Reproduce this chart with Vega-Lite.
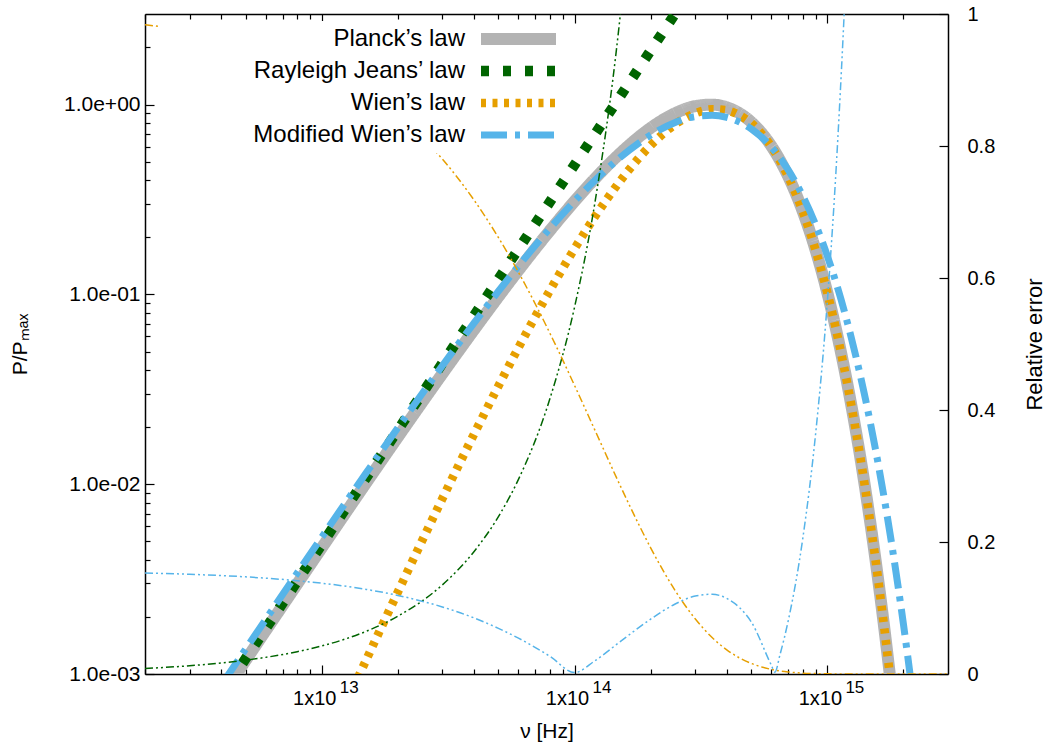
{
  "$schema": "https://vega.github.io/schema/vega-lite/v6.json",
  "width": 803,
  "height": 660,
  "autosize": "none",
  "padding": {"left": 145, "top": 14, "right": 98, "bottom": 73},
  "background": "white",
  "config": {
    "font": "Liberation Sans",
    "view": {"stroke": null},
    "axis": {
      "labelFont": "Liberation Sans", "titleFont": "Liberation Sans",
      "labelFontSize": 20, "titleFontSize": 21, "titleFontWeight": "normal",
      "labelColor": "#000", "titleColor": "#000", "domainColor": "#000", "tickColor": "#000",
      "domainWidth": 1.5, "tickWidth": 1.2, "grid": false, "labelFlush": false, "labelOverlap": false
    },
    "legend": {
      "orient": "none", "legendX": 15, "legendY": 7, "padding": 6,
      "symbolType": "M-7.5,0H7.5", "symbolSize": 100,
      "labelAlign": "right", "labelOffset": -65.5, "symbolOffset": 340.5,
      "labelFont": "Liberation Sans", "labelFontSize": 24, "labelColor": "#000", "labelLimit": 400,
      "fillColor": "white", "rowPadding": 8
    }
  },
  "data": {"values": [
    {"nu": 2e12, "Planck’s law": 1.910e-4, "Rayleigh Jeans’ law": 1.926e-4, "Wien’s law": 3.134e-6, "Modified Wien’s law": 2.202e-4, "err_rj": 0.0083, "err_wien": 0.9836, "err_mod": 0.1531},
    {"nu": 3e12, "Planck’s law": 4.280e-4, "Rayleigh Jeans’ law": 4.333e-4, "Wien’s law": 1.049e-5, "Modified Wien’s law": 4.926e-4, "err_rj": 0.0125, "err_wien": 0.9755, "err_mod": 0.1511},
    {"nu": 4e12, "Planck’s law": 7.577e-4, "Rayleigh Jeans’ law": 7.704e-4, "Wien’s law": 2.466e-5, "Modified Wien’s law": 8.707e-4, "err_rj": 0.0167, "err_wien": 0.9675, "err_mod": 0.1491},
    {"nu": 5e12, "Planck’s law": 1.179e-3, "Rayleigh Jeans’ law": 1.204e-3, "Wien’s law": 4.777e-5, "Modified Wien’s law": 1.353e-3, "err_rj": 0.0210, "err_wien": 0.9595, "err_mod": 0.1472},
    {"nu": 6e12, "Planck’s law": 1.691e-3, "Rayleigh Jeans’ law": 1.733e-3, "Wien’s law": 8.187e-5, "Modified Wien’s law": 1.936e-3, "err_rj": 0.0252, "err_wien": 0.9516, "err_mod": 0.1452},
    {"nu": 8e12, "Planck’s law": 2.981e-3, "Rayleigh Jeans’ law": 3.082e-3, "Wien’s law": 1.909e-4, "Modified Wien’s law": 3.402e-3, "err_rj": 0.0338, "err_wien": 0.9360, "err_mod": 0.1414},
    {"nu": 1e13, "Planck’s law": 4.618e-3, "Rayleigh Jeans’ law": 4.815e-3, "Wien’s law": 3.667e-4, "Modified Wien’s law": 5.254e-3, "err_rj": 0.0425, "err_wien": 0.9206, "err_mod": 0.1376},
    {"nu": 1.5e13, "Planck’s law": 0.01018, "Rayleigh Jeans’ law": 0.01083, "Wien’s law": 1.187e-3, "Modified Wien’s law": 0.01148, "err_rj": 0.0647, "err_wien": 0.8833, "err_mod": 0.1282},
    {"nu": 2e13, "Planck’s law": 0.01771, "Rayleigh Jeans’ law": 0.01926, "Wien’s law": 2.701e-3, "Modified Wien’s law": 0.01982, "err_rj": 0.0875, "err_wien": 0.8475, "err_mod": 0.1191},
    {"nu": 3e13, "Planck’s law": 0.03818, "Rayleigh Jeans’ law": 0.04333, "Wien’s law": 8.391e-3, "Modified Wien’s law": 0.04206, "err_rj": 0.1350, "err_wien": 0.7802, "err_mod": 0.1016},
    {"nu": 4e13, "Planck’s law": 0.06499, "Rayleigh Jeans’ law": 0.07704, "Wien’s law": 0.01831, "Modified Wien’s law": 0.07052, "err_rj": 0.1853, "err_wien": 0.7183, "err_mod": 0.0850},
    {"nu": 5e13, "Planck’s law": 0.09719, "Rayleigh Jeans’ law": 0.1204, "Wien’s law": 0.03292, "Modified Wien’s law": 0.1039, "err_rj": 0.2385, "err_wien": 0.6612, "err_mod": 0.0692},
    {"nu": 6e13, "Planck’s law": 0.1339, "Rayleigh Jeans’ law": 0.1733, "Wien’s law": 0.05237, "Modified Wien’s law": 0.1411, "err_rj": 0.2949, "err_wien": 0.6087, "err_mod": 0.0543},
    {"nu": 8e13, "Planck’s law": 0.2173, "Rayleigh Jeans’ law": 0.3081, "Wien’s law": 0.1052, "Modified Wien’s law": 0.2231, "err_rj": 0.4178, "err_wien": 0.5159, "err_mod": 0.0267},
    {"nu": 1e14, "Planck’s law": 0.3095, "Rayleigh Jeans’ law": 0.4815, "Wien’s law": 0.1742, "Modified Wien’s law": 0.3101, "err_rj": 0.5558, "err_wien": 0.4372, "err_mod": 0.0021},
    {"nu": 1.2e14, "Planck’s law": 0.4052, "Rayleigh Jeans’ law": 0.6933, "Wien’s law": 0.2551, "Modified Wien’s law": 0.3972, "err_rj": 0.7110, "err_wien": 0.3706, "err_mod": 0.0197},
    {"nu": 1.5e14, "Planck’s law": 0.5467, "Rayleigh Jeans’ law": 1.083, "Wien’s law": 0.3887, "Modified Wien’s law": 0.5207, "err_rj": 0.9814, "err_wien": 0.2891, "err_mod": 0.0477},
    {"nu": 1.8e14, "Planck’s law": 0.6766, "Rayleigh Jeans’ law": 1.560, "Wien’s law": 0.5240, "Modified Wien’s law": 0.6289, "err_rj": 1.3055, "err_wien": 0.2256, "err_mod": 0.0706},
    {"nu": 2e14, "Planck’s law": 0.7532, "Rayleigh Jeans’ law": 1.926, "Wien’s law": 0.6092, "Modified Wien’s law": 0.6906, "err_rj": 1.5570, "err_wien": 0.1912, "err_mod": 0.0831},
    {"nu": 2.5e14, "Planck’s law": 0.9006, "Rayleigh Jeans’ law": 3.009, "Wien’s law": 0.7868, "Modified Wien’s law": 0.8051, "err_rj": 2.3413, "err_wien": 0.1264, "err_mod": 0.1061},
    {"nu": 3e14, "Planck’s law": 0.9810, "Rayleigh Jeans’ law": 4.333, "Wien’s law": 0.8990, "Modified Wien’s law": 0.8651, "err_rj": 3.4173, "err_wien": 0.0836, "err_mod": 0.1181},
    {"nu": 3.5e14, "Planck’s law": 0.9992, "Rayleigh Jeans’ law": 5.898, "Wien’s law": 0.9440, "Modified Wien’s law": 0.8785, "err_rj": 4.9029, "err_wien": 0.0553, "err_mod": 0.1208},
    {"nu": 4e14, "Planck’s law": 0.9671, "Rayleigh Jeans’ law": 7.704, "Wien’s law": 0.9317, "Modified Wien’s law": 0.8564, "err_rj": 6.9658, "err_wien": 0.0366, "err_mod": 0.1145},
    {"nu": 4.5e14, "Planck’s law": 0.8989, "Rayleigh Jeans’ law": 9.750, "Wien’s law": 0.8772, "Modified Wien’s law": 0.8087, "err_rj": 9.846, "err_wien": 0.0242, "err_mod": 0.1004},
    {"nu": 5e14, "Planck’s law": 0.8086, "Rayleigh Jeans’ law": 12.04, "Wien’s law": 0.7957, "Modified Wien’s law": 0.7448, "err_rj": 13.886, "err_wien": 0.0160, "err_mod": 0.0789},
    {"nu": 6e14, "Planck’s law": 0.6054, "Rayleigh Jeans’ law": 17.33, "Wien’s law": 0.6012, "Modified Wien’s law": 0.5972, "err_rj": 27.63, "err_wien": 0.0070, "err_mod": 0.0136},
    {"nu": 6.2e14, "Planck’s law": 0.5655, "Rayleigh Jeans’ law": 18.51, "Wien’s law": 0.5622, "Modified Wien’s law": 0.5671, "err_rj": 31.73, "err_wien": 0.0059, "err_mod": 0.0028},
    {"nu": 6.5e14, "Planck’s law": 0.5078, "Rayleigh Jeans’ law": 20.34, "Wien’s law": 0.5054, "Modified Wien’s law": 0.5229, "err_rj": 39.06, "err_wien": 0.0046, "err_mod": 0.0298},
    {"nu": 7e14, "Planck’s law": 0.4187, "Rayleigh Jeans’ law": 23.59, "Wien’s law": 0.4174, "Modified Wien’s law": 0.4524, "err_rj": 55.35, "err_wien": 0.0031, "err_mod": 0.0805},
    {"nu": 8e14, "Planck’s law": 0.2728, "Rayleigh Jeans’ law": 30.81, "Wien’s law": 0.2724, "Modified Wien’s law": 0.3291, "err_rj": 111.96, "err_wien": 0.0013, "err_mod": 0.2063},
    {"nu": 9e14, "Planck’s law": 0.1697, "Rayleigh Jeans’ law": 39.00, "Wien’s law": 0.1696, "Modified Wien’s law": 0.2319, "err_rj": 228.8, "err_wien": 0.00058, "err_mod": 0.3667},
    {"nu": 1e15, "Planck’s law": 0.1018, "Rayleigh Jeans’ law": 48.15, "Wien’s law": 0.1017, "Modified Wien’s law": 0.1592, "err_rj": 472.2, "err_wien": 0.00026, "err_mod": 0.5650},
    {"nu": 1.1e15, "Planck’s law": 0.05921, "Rayleigh Jeans’ law": 58.26, "Wien’s law": 0.05920, "Modified Wien’s law": 0.1073, "err_rj": null, "err_wien": 0.00011, "err_mod": 0.8114},
    {"nu": 1.2e15, "Planck’s law": 0.03361, "Rayleigh Jeans’ law": 69.33, "Wien’s law": 0.03361, "Modified Wien’s law": 0.07105, "err_rj": null, "err_wien": 0.00005, "err_mod": 1.1142},
    {"nu": 1.4e15, "Planck’s law": 0.01020, "Rayleigh Jeans’ law": 94.37, "Wien’s law": 0.01020, "Modified Wien’s law": 0.02998, "err_rj": null, "err_wien": 0.00001, "err_mod": 1.938},
    {"nu": 1.6e15, "Planck’s law": 2.912e-3, "Rayleigh Jeans’ law": 123.3, "Wien’s law": 2.912e-3, "Modified Wien’s law": 0.01213, "err_rj": null, "err_wien": 0, "err_mod": null},
    {"nu": 1.8e15, "Planck’s law": 7.926e-4, "Rayleigh Jeans’ law": 156.0, "Wien’s law": 7.926e-4, "Modified Wien’s law": 4.760e-3, "err_rj": null, "err_wien": 0, "err_mod": null},
    {"nu": 2e15, "Planck’s law": 2.078e-4, "Rayleigh Jeans’ law": 192.6, "Wien’s law": 2.078e-4, "Modified Wien’s law": 1.821e-3, "err_rj": null, "err_wien": 0, "err_mod": null},
    {"nu": 2.2e15, "Planck’s law": 5.289e-5, "Rayleigh Jeans’ law": 233.0, "Wien’s law": 5.289e-5, "Modified Wien’s law": 6.830e-4, "err_rj": null, "err_wien": 0, "err_mod": null},
    {"nu": 2.5e15, "Planck’s law": 6.487e-6, "Rayleigh Jeans’ law": 300.9, "Wien’s law": 6.487e-6, "Modified Wien’s law": 1.523e-4, "err_rj": null, "err_wien": 0, "err_mod": null},
    {"nu": 3e15, "Planck’s law": 1.792e-7, "Rayleigh Jeans’ law": 433.3, "Wien’s law": 1.792e-7, "Modified Wien’s law": 1.173e-5, "err_rj": null, "err_wien": 0, "err_mod": null}
  ]},
  "layer": [
    {
      "transform": [{"fold": ["Planck’s law", "Rayleigh Jeans’ law", "Wien’s law", "Modified Wien’s law"], "as": ["law", "P"]}],
      "mark": {"type": "line", "clip": true, "interpolate": "monotone"},
      "encoding": {
        "x": {"field": "nu", "type": "quantitative",
          "scale": {"type": "log", "domain": [2e12, 3e15], "nice": false},
          "axis": {
            "orient": "bottom",
            "values": [2e12,3e12,4e12,5e12,6e12,7e12,8e12,9e12,1e13,2e13,3e13,4e13,5e13,6e13,7e13,8e13,9e13,1e14,2e14,3e14,4e14,5e14,6e14,7e14,8e14,9e14,1e15,2e15],
            "labelExpr": "datum.value == 1e13 || datum.value == 1e14 || datum.value == 1e15 ? '1x10' : ''",
            "tickSize": {"condition": {"test": "datum.value == 1e13 || datum.value == 1e14 || datum.value == 1e15", "value": -9}, "value": -5},
            "labelPadding": 23, "labelOffset": -7.5,
            "title": "ν [Hz]", "titlePadding": 8
          }},
        "y": {"field": "P", "type": "quantitative",
          "scale": {"type": "log", "domain": [0.001, 3], "nice": false},
          "axis": {
            "orient": "left",
            "values": [0.001,0.002,0.003,0.004,0.005,0.006,0.007,0.008,0.009,0.01,0.02,0.03,0.04,0.05,0.06,0.07,0.08,0.09,0.1,0.2,0.3,0.4,0.5,0.6,0.7,0.8,0.9,1,2],
            "labelExpr": "datum.value == 0.001 ? '1.0e-03' : datum.value == 0.01 ? '1.0e-02' : datum.value == 0.1 ? '1.0e-01' : datum.value == 1 ? '1.0e+00' : ''",
            "tickSize": {"condition": {"test": "datum.value == 0.001 || datum.value == 0.01 || datum.value == 0.1 || datum.value == 1", "value": -9}, "value": -5},
            "labelPadding": 14, "labelFontSize": 21,
            "title": "P/Pₘₐₓ", "titlePadding": 33
          }},
        "color": {"field": "law", "type": "nominal",
          "scale": {"domain": ["Planck’s law", "Rayleigh Jeans’ law", "Wien’s law", "Modified Wien’s law"], "range": ["#b3b3b3", "#006400", "#e69f00", "#56b4e9"]},
          "legend": {"title": null, "encode": {"symbols": {"update": {"strokeJoin": {"value": "bevel"}}}}}},
        "strokeDash": {"field": "law", "type": "nominal",
          "scale": {"domain": ["Planck’s law", "Rayleigh Jeans’ law", "Wien’s law", "Modified Wien’s law"], "range": [[1, 0], [8, 14], [5, 6.5], [26, 8, 5, 8]]},
          "legend": {"title": null}},
        "strokeWidth": {"field": "law", "type": "nominal",
          "scale": {"domain": ["Planck’s law", "Rayleigh Jeans’ law", "Wien’s law", "Modified Wien’s law"], "range": [12, 7, 7, 7]},
          "legend": {"title": null}}
      }
    },
    {
      "layer": [
        {
          "mark": {"type": "line", "clip": true, "interpolate": "monotone", "color": "#006400", "strokeWidth": 1.5, "strokeDash": [8, 3, 2, 3, 2, 3]},
          "encoding": {
            "x": {"field": "nu", "type": "quantitative", "scale": {"type": "log", "domain": [2e12, 3e15], "nice": false},
              "axis": {"orient": "top", "labels": false, "title": null,
                "values": [2e12,3e12,4e12,5e12,6e12,7e12,8e12,9e12,1e13,2e13,3e13,4e13,5e13,6e13,7e13,8e13,9e13,1e14,2e14,3e14,4e14,5e14,6e14,7e14,8e14,9e14,1e15,2e15],
                "tickSize": {"condition": {"test": "datum.value == 1e13 || datum.value == 1e14 || datum.value == 1e15", "value": -9}, "value": -5}}},
            "y": {"field": "err_rj", "type": "quantitative", "scale": {"domain": [0, 1], "nice": false},
              "axis": {"orient": "right", "values": [0, 0.2, 0.4, 0.6, 0.8, 1], "format": "~g", "tickSize": -9, "labelPadding": 28, "title": "Relative error", "titleFontSize": 22, "titleAngle": 270, "titlePadding": 52}}
          }
        },
        {
          "mark": {"type": "line", "clip": true, "interpolate": "monotone", "color": "#e69f00", "strokeWidth": 1.5, "strokeDash": [8, 3, 2, 3, 2, 3]},
          "encoding": {
            "x": {"field": "nu", "type": "quantitative", "scale": {"type": "log", "domain": [2e12, 3e15], "nice": false},
              "axis": {"orient": "top", "labels": false, "title": null,
                "values": [2e12,3e12,4e12,5e12,6e12,7e12,8e12,9e12,1e13,2e13,3e13,4e13,5e13,6e13,7e13,8e13,9e13,1e14,2e14,3e14,4e14,5e14,6e14,7e14,8e14,9e14,1e15,2e15],
                "tickSize": {"condition": {"test": "datum.value == 1e13 || datum.value == 1e14 || datum.value == 1e15", "value": -9}, "value": -5}}},
            "y": {"field": "err_wien", "type": "quantitative", "scale": {"domain": [0, 1], "nice": false},
              "axis": {"orient": "right", "values": [0, 0.2, 0.4, 0.6, 0.8, 1], "format": "~g", "tickSize": -9, "labelPadding": 28, "title": "Relative error", "titleFontSize": 22, "titleAngle": 270, "titlePadding": 52}}
          }
        }
      ]
    },
    {
      "mark": {"type": "line", "clip": true, "interpolate": "monotone", "color": "#56b4e9", "strokeWidth": 1.5, "strokeDash": [8, 3, 2, 3, 2, 3]},
      "encoding": {
        "x": {"field": "nu", "type": "quantitative", "scale": {"type": "log", "domain": [2e12, 3e15], "nice": false},
          "axis": {"orient": "bottom", "title": null, "ticks": false, "tickSize": 0, "domain": false,
            "values": [1e13, 1e14, 1e15],
            "labelExpr": "datum.value == 1e13 ? '13' : datum.value == 1e14 ? '14' : '15'",
            "labelFontSize": 17, "labelPadding": 5, "labelOffset": 27}},
        "y": {"field": "err_mod", "type": "quantitative", "scale": {"domain": [0, 1], "nice": false}, "axis": null}
      }
    }
  ],
  "resolve": {"scale": {"y": "independent"}, "axis": {"x": "independent", "y": "independent"}}
}
